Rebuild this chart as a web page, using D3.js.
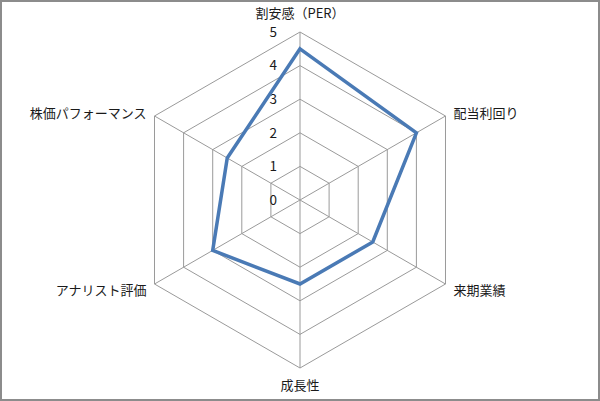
<!DOCTYPE html>
<html>
<head>
<meta charset="utf-8">
<script src="https://cdn.jsdelivr.net/npm/d3@7"></script>
<style>
  body { margin: 0; background: #fff; }
  text { font-family: "Noto Sans CJK JP", "Noto Sans", sans-serif; fill: #1a1a1a; }
</style>
</head>
<body>
<div id="chart"></div>
<script>
// Données du graphique radar
const categories = ["割安感（PER）", "配当利回り", "来期業績", "成長性", "アナリスト評価", "株価パフォーマンス"];
const values = [4.5, 4, 2.5, 2.5, 3, 2.5];
const tickValues = [0, 1, 2, 3, 4, 5];

const width = 600, height = 401;
const cx = 300, cy = 200, radius = 168;

const svg = d3.select("#chart").append("svg")
    .attr("width", width)
    .attr("height", height);

// Cadre
svg.append("rect")
    .attr("x", 1).attr("y", 1)
    .attr("width", width - 2).attr("height", height - 2)
    .attr("fill", "#fff")
    .attr("stroke", "#8c8c8c")
    .attr("stroke-width", 2);

const g = svg.append("g").attr("transform", `translate(${cx},${cy})`);

// Echelles
const rScale = d3.scaleLinear().domain([0, 5]).range([0, radius]);
const angle = d3.scalePoint().domain(categories).range([0, 2 * Math.PI * (categories.length - 1) / categories.length]);

const px = (c, v) => rScale(v) * Math.sin(angle(c));
const py = (c, v) => -rScale(v) * Math.cos(angle(c));

// Grille hexagonale
tickValues.filter(t => t > 0).forEach(t => {
    g.append("polygon")
        .attr("points", categories.map(c => [px(c, t), py(c, t)].join(",")).join(" "))
        .attr("fill", "none")
        .attr("stroke", "#9a9a9a")
        .attr("stroke-width", 1);
});

// Axes rayonnants
g.selectAll(".spoke")
    .data(categories)
    .enter().append("line")
    .attr("class", "spoke")
    .attr("x1", 0).attr("y1", 0)
    .attr("x2", c => px(c, 5))
    .attr("y2", c => py(c, 5))
    .attr("stroke", "#9a9a9a")
    .attr("stroke-width", 1);

// Etiquettes des graduations
g.selectAll(".tick")
    .data(tickValues)
    .enter().append("text")
    .attr("class", "tick")
    .attr("x", -23)
    .attr("y", d => -rScale(d))
    .attr("dy", "0.36em")
    .attr("text-anchor", "end")
    .style("font-size", "13.5px")
    .text(d => d);

// Série
const line = d3.lineRadial()
    .angle(d => angle(d.c))
    .radius(d => rScale(d.v))
    .curve(d3.curveLinearClosed);

g.append("path")
    .datum(categories.map((c, i) => ({ c: c, v: values[i] })))
    .attr("d", line)
    .attr("fill", "none")
    .attr("stroke", "#4a7ab5")
    .attr("stroke-width", 3.5)
    .attr("stroke-linejoin", "miter");

// Etiquettes des catégories
g.selectAll(".cat")
    .data(categories)
    .enter().append("text")
    .attr("class", "cat")
    .attr("x", c => {
        const s = Math.sin(angle(c));
        return px(c, 5) + (Math.abs(s) < 0.01 ? 0 : (s > 0 ? 8 : -8));
    })
    .attr("y", c => {
        const k = Math.cos(angle(c));
        if (k > 0.99) return py(c, 5) - 19;
        if (k < -0.99) return py(c, 5) + 17;
        return py(c, 5) + (k > 0 ? -3 : 6);
    })
    .attr("dy", "0.36em")
    .attr("text-anchor", c => {
        const s = Math.sin(angle(c));
        return Math.abs(s) < 0.01 ? "middle" : (s > 0 ? "start" : "end");
    })
    .style("font-size", "13px")
    .text(c => c);
</script>
</body>
</html>
